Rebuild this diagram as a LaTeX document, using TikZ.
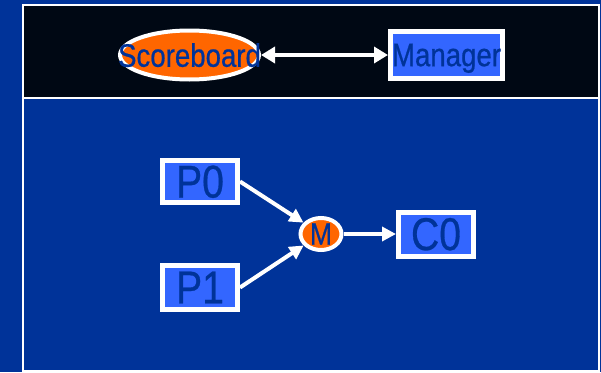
\documentclass[tikz,border=0pt]{standalone}
\usepackage{fontspec}
\newfontfamily\labelfont{Liberation Sans}[FakeStretch=0.85,FakeBold=0.6]
\usetikzlibrary{shapes.geometric,arrows.meta}

\definecolor{bgblue}{HTML}{003399}
\definecolor{panelblack}{HTML}{000814}
\definecolor{boxblue}{HTML}{3366FF}
\definecolor{orng}{HTML}{FF6600}
\definecolor{txtblue}{HTML}{003399}

\tikzset{
  boxnode/.style={rectangle, draw=white, line width=5pt, fill=boxblue,
    inner sep=0pt, text=txtblue, text depth=0pt},
  ovalnode/.style={ellipse, draw=white, line width=4pt, fill=orng, inner sep=0pt},
  lbl/.style={inner sep=0pt, text=txtblue, text depth=0pt},
  midfont/.style={font=\labelfont\fontsize{32.5pt}{36pt}\selectfont},
  bigfont/.style={font=\labelfont\fontsize{46pt}{50pt}\selectfont},
  smallfont/.style={font=\labelfont\fontsize{31pt}{34pt}\selectfont},
  link/.style={white, line width=4pt, -{Triangle[length=14pt,width=14pt]}},
  dlink/.style={white, line width=3.5pt,
    {Triangle[length=14pt,width=16pt]}-{Triangle[length=14pt,width=16pt]}},
  panel/.style={draw=white, line width=2pt}
}

\begin{document}
\begin{tikzpicture}[x=1pt,y=-1pt]
  % backdrop and the two panels
  \fill[bgblue] (0,0) rectangle (601,372);
  \useasboundingbox (0,0) rectangle (601,372);
  \draw[panel, fill=panelblack] (23,5) rectangle (599,98);
  \draw[panel] (23,98) rectangle (599,371);

  % upper panel: scoreboard and manager
  \node[ovalnode, minimum width=139pt, minimum height=49pt] (sb) at (189.5,55) {};
  \node[boxnode, midfont, minimum width=112pt, minimum height=47pt] (mgr) at (446.5,55) {Manager};
  \draw[dlink] (sb) -- (mgr);
  \node[lbl, midfont] (sbtext) at (sb.center) {Scoreboard};

  % lower panel: producers, merge point, consumer
  \node[boxnode, bigfont, minimum width=75pt, minimum height=42pt] (p0) at (200,181.5) {P0};
  \node[boxnode, bigfont, minimum width=75pt, minimum height=44pt] (p1) at (200,287.5) {P1};
  \node[ovalnode, minimum width=41pt, minimum height=32pt] (m) at (321,234) {};
  \node[lbl, smallfont] (mtext) at (m.center) {M};
  \node[boxnode, bigfont, minimum width=75pt, minimum height=44pt] (c0) at (436,234) {C0};

  \draw[link] (p0.east) -- (m);
  \draw[link] (p1.east) -- (m);
  \draw[link] (m) -- (c0);
\end{tikzpicture}
\end{document}
